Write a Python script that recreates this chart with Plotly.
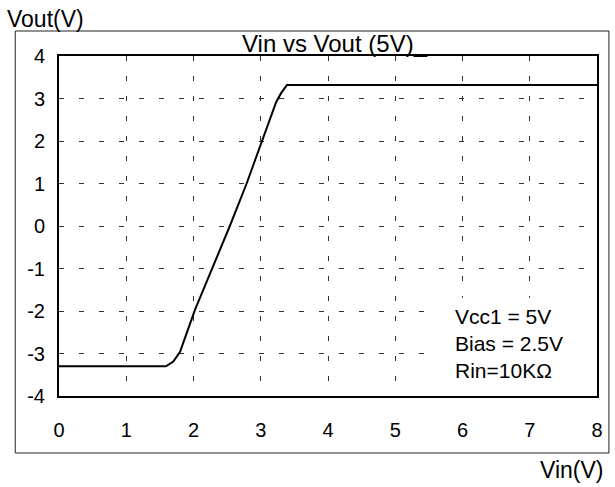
import plotly.graph_objects as go

# Transfer characteristic: input voltage vs output voltage
vin = [0.0, 1.59, 1.70, 1.80, 2.02, 2.29, 2.54, 2.79, 3.01, 3.23, 3.30, 3.39, 8.0]
vout = [-3.30, -3.30, -3.19, -2.96, -1.98, -0.96, 0.00, 1.00, 1.98, 2.92, 3.12, 3.32, 3.32]

x_ticks = [0, 1, 2, 3, 4, 5, 6, 7, 8]
y_ticks = [-4, -3, -2, -1, 0, 1, 2, 3, 4]

chart_title = "Vin vs Vout (5V)_"
x_label = "Vin(V)"
y_label = "Vout(V)"
notes = ["Vcc1 = 5V", "Bias = 2.5V", "Rin=10K\u03a9"]

FONT = "Liberation Sans, Arial, sans-serif"

W, H = 615, 487
L, R, T, B = 59, 15, 56, 91
pw, ph = W - L - R, H - T - B


def px(xp):
    return (xp - L) / pw


def py(yp):
    return (H - B - yp) / ph


fig = go.Figure()
fig.add_trace(go.Scatter(
    x=vin, y=vout, mode="lines",
    line=dict(color="black", width=2),
    hoverinfo="skip", showlegend=False,
))

grid = dict(showgrid=True, gridcolor="#333333", gridwidth=1, griddash="5px,15px",
            zeroline=False, showline=True, mirror=True, linecolor="black",
            linewidth=2, ticks="", tickfont=dict(family=FONT, size=20, color="black"))

fig.update_xaxes(range=[0, 8], tickmode="array", tickvals=x_ticks,
                 ticktext=[str(v) for v in x_ticks], ticklabelstandoff=15, **grid)
fig.update_yaxes(range=[-4, 4], tickmode="array", tickvals=y_ticks,
                 ticktext=[str(v) for v in y_ticks], ticklabelstandoff=8, **grid)

shapes = [
    # outer frame around the whole chart
    dict(type="rect", xref="paper", yref="paper",
         x0=px(15), x1=px(612), y0=py(453), y1=py(31),
         line=dict(color="#222222", width=1), fillcolor="rgba(0,0,0,0)"),
    # blank panel behind the parameter notes
    dict(type="rect", xref="x", yref="y", x0=5.59, x1=7.97, y0=-3.97, y1=-1.69,
         line=dict(width=0), fillcolor="white", layer="above"),
]

annotations = [
    dict(text=chart_title, xref="paper", yref="paper", x=px(337), y=py(44),
         xanchor="center", yanchor="middle", showarrow=False,
         font=dict(family=FONT, size=24, color="black")),
    dict(text=y_label, xref="paper", yref="paper", x=px(5), y=py(19),
         xanchor="left", yanchor="middle", showarrow=False,
         font=dict(family=FONT, size=23, color="black")),
    dict(text=x_label, xref="paper", yref="paper", x=px(609), y=py(470),
         xanchor="right", yanchor="middle", showarrow=False,
         font=dict(family=FONT, size=23, color="black")),
]
for i, line in enumerate(notes):
    annotations.append(dict(
        text=line, xref="x", yref="y", x=5.86, y=4 - (316 + 27 * i - T) / (ph / 8),
        xanchor="left", yanchor="middle", showarrow=False,
        font=dict(family=FONT, size=21, color="black")))

fig.update_layout(
    width=W, height=H,
    margin=dict(l=L, r=R, t=T, b=B),
    paper_bgcolor="white", plot_bgcolor="white",
    shapes=shapes, annotations=annotations,
    showlegend=False,
)

fig.write_html("out.html")
